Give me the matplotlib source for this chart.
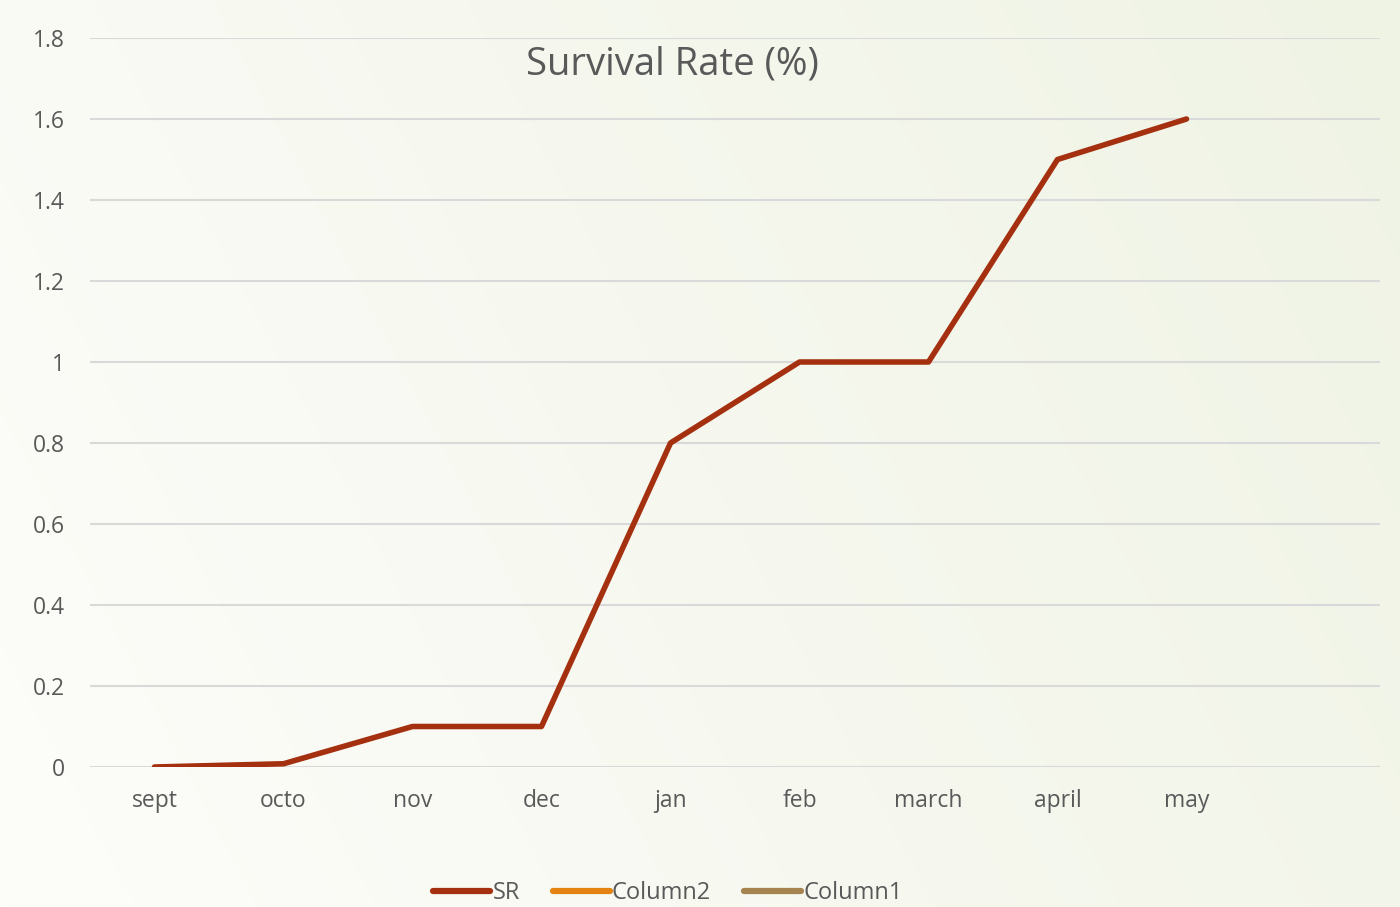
import matplotlib
matplotlib.use("Agg")
import matplotlib.pyplot as plt
import numpy as np

months = ["sept", "octo", "nov", "dec", "jan", "feb", "march", "april", "may", ""]
sr = [0, 0.008, 0.1, 0.1, 0.8, 1.0, 1.0, 1.5, 1.6]
y_ticks = [0, 0.2, 0.4, 0.6, 0.8, 1, 1.2, 1.4, 1.6, 1.8]
y_labels = ["0", "0.2", "0.4", "0.6", "0.8", "1", "1.2", "1.4", "1.6", "1.8"]

series_colors = {"SR": "#A5300F", "Column2": "#E48312", "Column1": "#A5844F"}
text_color = "#595959"

plt.rcParams["font.family"] = ["Open Sans", "DejaVu Sans"]

fig = plt.figure(figsize=(14, 9.07), dpi=100)

# soft diagonal background wash
bg = fig.add_axes([0, 0, 1, 1], zorder=-10)
gx, gy = np.meshgrid(np.linspace(0, 1, 300), np.linspace(0, 1, 200))
t = np.clip(0.75 * gx + 0.25 * gy, 0, 1)
c0 = np.array([253, 253, 250]) / 255
c1 = np.array([239, 243, 228]) / 255
img = c0[None, None, :] * (1 - t[..., None]) + c1[None, None, :] * t[..., None]
bg.imshow(img, aspect="auto", origin="lower", extent=[0, 1, 0, 1])
bg.axis("off")

ax = fig.add_axes([90 / 1400, 140 / 907, 1290 / 1400, 729 / 907])
ax.patch.set_alpha(0)

x = np.arange(len(sr))
ax.plot(x, sr, color=series_colors["SR"], lw=4, solid_capstyle="round",
        solid_joinstyle="round", label="SR", zorder=3)
ax.plot([], [], color=series_colors["Column2"], lw=4.5, solid_capstyle="round", label="Column2")
ax.plot([], [], color=series_colors["Column1"], lw=4.5, solid_capstyle="round", label="Column1")
# legend handle for SR drawn slightly thicker, like the others
handles, labels = ax.get_legend_handles_labels()

ax.set_xlim(-0.5, len(months) - 0.5)
ax.set_ylim(0, 1.8)
ax.set_yticks(y_ticks)
ax.set_yticklabels(y_labels)
ax.set_xticks(np.arange(len(months)))
ax.set_xticklabels(months)
ax.tick_params(axis="both", length=0, labelsize=16.5, colors=text_color)
ax.tick_params(axis="y", pad=18)
ax.tick_params(axis="x", pad=16)
ax.yaxis.grid(True, color="#D9D9D9", lw=1.5)
ax.set_axisbelow(True)
for s in ax.spines.values():
    s.set_visible(False)

fig.text(672 / 1400, 1 - 64 / 907, "Survival Rate (%)", ha="center", va="center",
         fontsize=27.5, color=text_color)

leg = fig.legend(handles, labels, loc="center", bbox_to_anchor=(668 / 1400, 1 - 893 / 907),
                 ncol=3, frameon=False, fontsize=17, handlelength=2.4, handletextpad=0.1,
                 columnspacing=1.4, labelcolor=text_color)
for line in leg.get_lines():
    line.set_linewidth(4.5)

fig.savefig("out.png", dpi=100)
